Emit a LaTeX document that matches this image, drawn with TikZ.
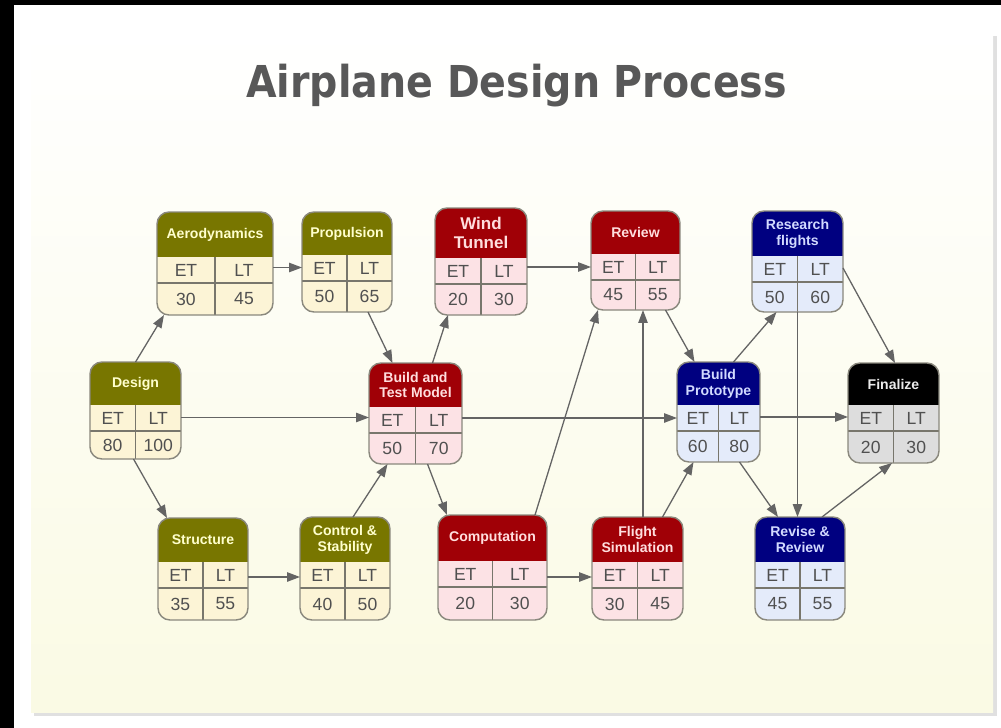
\documentclass[tikz,border=0pt]{standalone}
\usepackage{fontspec}
\setmainfont{Liberation Sans}
\newfontfamily\titlefont[FakeStretch=0.9]{DejaVu Sans}
\usetikzlibrary{arrows.meta,calc}

\definecolor{olivehead}{RGB}{120,118,0}
\definecolor{olivebody}{RGB}{252,244,214}
\definecolor{olivetext}{RGB}{255,255,205}
\definecolor{redhead}{RGB}{160,0,6}
\definecolor{redbody}{RGB}{252,226,229}
\definecolor{redtext}{RGB}{255,222,222}
\definecolor{navyhead}{RGB}{0,0,128}
\definecolor{navybody}{RGB}{228,235,250}
\definecolor{navytext}{RGB}{210,218,255}
\definecolor{blackhead}{RGB}{0,0,0}
\definecolor{blackbody}{RGB}{221,221,221}
\definecolor{blacktext}{RGB}{235,235,235}
\definecolor{boxgray}{RGB}{138,136,125}
\definecolor{cellgray}{RGB}{120,118,108}
\definecolor{numgray}{RGB}{80,80,80}
\definecolor{flowgray}{RGB}{100,100,100}
\definecolor{titlegray}{RGB}{88,88,88}
\definecolor{panelbottom}{RGB}{250,250,228}

\tikzstyle{box}=[rectangle, rounded corners=3.6mm, inner sep=0pt, outer sep=0pt]
\tikzstyle{boxline}=[draw=boxgray, line width=1.2pt, rounded corners=3.6mm]
\tikzstyle{cell}=[draw=cellgray, line width=0.9pt]
\tikzstyle{head}=[font=\bfseries\fontsize{12}{13.5}\selectfont, align=center, inner sep=0pt]
\tikzstyle{num}=[font=\fontsize{15}{18}\selectfont, text=numgray, inner sep=0pt]
\tikzstyle{flow}=[draw=flowgray, line width=1.1pt, -{Triangle[length=11pt,width=8pt]}]

% name, centre, width, height, header height, colour, title, ET, LT
\newcommand{\pertbox}[9]{%
\node[box, fill=#6body, minimum width=#3*0.3mm, minimum height=#4*0.3mm] at (#2) (#1) {};
\begin{scope}
\clip[rounded corners=3.6mm] (#1.south west) rectangle (#1.north east);
\fill[#6head] (#1.north west) rectangle ($(#1.north east)+(0,#5)$);
\draw[cell] ($(#1.north west)+(0,#5+26)$) -- ($(#1.north east)+(0,#5+26)$);
\draw[cell] ($(#1.north)+(0,#5)$) -- (#1.south);
\end{scope}
\draw[boxline] (#1.south west) rectangle (#1.north east);
\node[head, text=#6text] at ($(#1.north)+(0,#5/2)$) (#1-title) {#7};
\node[num] at ($(#1.north)+({-#3/4},#5+13)$) (#1-et) {ET};
\node[num] at ($(#1.north)+({#3/4},#5+13)$) (#1-lt) {LT};
\node[num] at ($(#1.north)+({-#3/4},{(#5+26+#4)/2})$) (#1-etv) {#8};
\node[num] at ($(#1.north)+({#3/4},{(#5+26+#4)/2})$) (#1-ltv) {#9};
}

\begin{document}
\begin{tikzpicture}[x=0.03cm, y=-0.03cm]
\useasboundingbox (0,0) rectangle (1001,728);
\fill[white] (0,0) rectangle (1001,728);
\fill[black] (0,0) rectangle (14,728);
\fill[black] (0,0) rectangle (1001,5);
\fill[black!12] (34,36) rectangle (997,716);
\shade[top color=white, bottom color=panelbottom] (31,32) rectangle (993,712);

\node[font=\titlefont\bfseries\fontsize{37.5}{45}\selectfont, text=titlegray, anchor=base] at (516.5,97) (Title) {Airplane Design Process};

\pertbox{Design}{135.5,410.5}{91}{97}{43}{olive}{Design}{80}{100}
\pertbox{Aero}{215,263.5}{116}{103}{45}{olive}{Aerodynamics}{30}{45}
\pertbox{Prop}{347,262}{90}{100}{43}{olive}{Propulsion}{50}{65}
\begin{scope}[head/.append style={font=\bfseries\fontsize{14.5}{16.5}\selectfont}]
\pertbox{Wind}{481,261.5}{92}{107}{50}{red}{Wind\\Tunnel}{20}{30}
\end{scope}
\pertbox{Review}{635.5,260.5}{89}{99}{43}{red}{Review}{45}{55}
\pertbox{Research}{797.5,261.5}{91}{101}{45}{navy}{Research\\flights}{50}{60}
\pertbox{BTM}{415.5,413.5}{93}{101}{44}{red}{Build and\\Test Model}{50}{70}
\pertbox{BP}{718.5,412}{83}{100}{43}{navy}{Build\\Prototype}{60}{80}
\pertbox{Finalize}{893.5,413}{91}{100}{42}{black}{Finalize}{20}{30}
\pertbox{Struct}{203,569}{90}{102}{44}{olive}{Structure}{35}{55}
\pertbox{Ctrl}{345,568.5}{90}{103}{45}{olive}{Control \&\\Stability}{40}{50}
\pertbox{Comp}{492.5,567.5}{109}{105}{46}{red}{Computation}{20}{30}
\pertbox{Flight}{637.5,568.5}{91}{103}{45}{red}{Flight\\Simulation}{30}{45}
\pertbox{Revise}{800,568.5}{90}{103}{45}{navy}{Revise \&\\Review}{45}{55}

\draw[flow] (Design.north) -- ($(Aero.south west)+(7,0)$);
\draw[flow] ($(Design.east)+(0,7)$) -- ($(BTM.west)+(0,4)$);
\draw[flow] ($(Design.south)+(-2,0)$) -- ($(Struct.north west)+(9,0)$);
\draw[flow] ($(Aero.east)+(0,4)$) -- ($(Prop.west)+(0,5.5)$);
\draw[flow] ($(Prop.south)+(21,0)$) -- ($(BTM.north)+(-23,0)$);
\draw[flow] ($(Struct.east)+(0,8)$) -- ($(Ctrl.west)+(0,8.5)$);
\draw[flow] ($(Ctrl.north)+(8,0)$) -- ($(BTM.south)+(-28,0)$);
\draw[flow] ($(BTM.north)+(17,0)$) -- ($(Wind.south)+(-33,0)$);
\draw[flow] ($(BTM.south)+(12,0)$) -- ($(Comp.north west)+(9,0)$);
\draw[flow] ($(BTM.east)+(0,4.5)$) -- ($(BP.west)+(0,6)$);
\draw[flow] ($(Wind.east)+(0,5.5)$) -- ($(Review.west)+(0,6.5)$);
\draw[flow] ($(Comp.north east)+(-12,0)$) -- ($(Review.south west)+(7,0)$);
\draw[flow] ($(Comp.east)+(0,9.5)$) -- ($(Flight.west)+(0,8.5)$);
\draw[flow] ($(Flight.north)+(5.5,0)$) -- ($(Review.south)+(7.5,0)$);
\draw[flow] ($(Flight.north)+(25,0)$) -- ($(BP.south)+(-25,0)$);
\draw[flow] ($(Review.south)+(30,0)$) -- ($(BP.north)+(-24,0)$);
\draw[flow] ($(BP.north)+(15,0)$) -- ($(Research.south)+(-21,0)$);
\draw[flow] ($(BP.east)+(0,5)$) -- ($(Finalize.west)+(0,4)$);
\draw[flow] ($(BP.south)+(21,0)$) -- ($(Revise.north)+(-22,0)$);
\draw[flow] (Research.south) -- ($(Revise.north)+(-2.5,0)$);
\draw[flow] ($(Research.east)+(0,6.5)$) -- ($(Finalize.north)+(1.5,0)$);
\draw[flow] ($(Revise.north east)+(-23,0)$) -- ($(Finalize.south)+(-1.5,0)$);
\end{tikzpicture}
\end{document}
